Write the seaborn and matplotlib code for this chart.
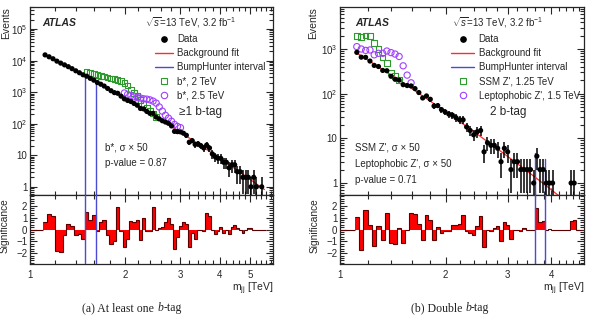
import numpy as np
import pandas as pd
import matplotlib
matplotlib.use("Agg")
import matplotlib.pyplot as plt
import seaborn as sns
from matplotlib.ticker import FixedLocator, FuncFormatter, NullFormatter, LogLocator, MultipleLocator
from matplotlib.lines import Line2D
from matplotlib.offsetbox import TextArea, HPacker, AnchoredOffsetbox

# ---------------- data ----------------
edges = [1.100, 1.133, 1.166, 1.200, 1.234, 1.269, 1.305, 1.341, 1.378, 1.416,
         1.454, 1.493, 1.533, 1.573, 1.614, 1.656, 1.698, 1.741, 1.785, 1.830,
         1.875, 1.921, 1.968, 2.016, 2.065, 2.114, 2.164, 2.215, 2.267, 2.320,
         2.374, 2.429, 2.485, 2.542, 2.600, 2.659, 2.719, 2.780, 2.842, 2.905,
         2.969, 3.034, 3.100, 3.167, 3.235, 3.305, 3.376, 3.448, 3.521, 3.596,
         3.672, 3.749, 3.827, 3.907, 3.988, 4.070, 4.154, 4.239, 4.326, 4.414,
         4.504, 4.595, 4.688, 4.782, 4.878, 4.975, 5.074, 5.175, 5.277, 5.381,
         5.487, 5.595]

left_data = [15174, 13208, 11437, 9622, 8325, 7317, 6420, 5552, 4755, 4124,
             3552, 3204, 2742, 2398, 2025, 1785, 1561, 1312, 1109, 966,
             921, 747, 612, 545, 505, 437, 384, 304, 294, 245,
             213, 212, 162, 142, 124, 113, 103, 85, 57, 56,
             55, 50, 43, 26, 29, 22, 23, 20, 17, 21,
             17, 11, 9, 8, 8, 6, 6, 4, 5, 5,
             3, 3, 2, 2, 2, 1, 2, 1, 0, 1, 0]
left_bkg = [15100, 13060, 11320, 9800, 8500, 7360, 6380, 5530, 4790, 4150,
            3600, 3120, 2700, 2340, 2030, 1760, 1530, 1330, 1150, 998,
            865, 750, 650, 564, 490, 425, 369, 320, 277, 247,
            214, 186, 162, 141, 122, 106.5, 93, 80.5, 70, 61,
            53, 46, 40.4, 35.1, 30.6, 26.6, 23.2, 20.2, 17.5, 15.2,
            13.3, 11.5, 10.1, 8.8, 7.6, 6.6, 5.7, 5.0, 4.4, 3.8,
            3.3, 2.85, 2.5, 2.17, 1.89, 1.64, 1.42, 1.24, 1.08, 0.93, 0.82]
left_sig = [0.6, 1.3, 1.1, -1.8, -1.9, -0.5, 0.5, 0.3, -0.5, -0.4,
            -0.8, 1.5, 0.8, 1.2, -0.1, 0.6, 0.8, -0.5, -1.2, -1.0,
            1.9, -0.1, -1.5, -0.8, 0.7, 0.6, 0.8, -0.9, 1.0, -0.1,
            -0.1, 1.9, 0.0, 0.1, 0.2, 0.6, 1.0, 0.5, -1.6, -0.6,
            0.3, 0.6, 0.5, -1.5, -0.3, -0.8, 0.0, 0.0, -0.1, 1.4,
            1.1, 0.0, -0.4, -0.1, 0.2, -0.3, 0.0, -0.4, 0.2, 0.4,
            0.1, 0.0, -0.3, 0.0, 0.1, 0.1, 0.0, 0.0, 0.0, 0.0, 0.0]
left_sig1_first_bin = 12          # b*, 2 TeV (data + signal x50)
left_sig1 = [4270, 4000, 3750, 3500, 3300, 3100, 2900, 2750, 2600, 2450, 2300,
             1950, 1600, 1200, 950, 750, 560, 420, 320, 260, 210, 165]
left_sig2_first_bin = 23          # b*, 2.5 TeV
left_sig2 = [940, 850, 780, 710, 670, 650, 615, 600, 570, 520, 450, 340,
             250, 185, 150, 120, 95, 82, 75]
left_interval = [1.493, 1.614]
left_interval_top = [3300, 1950]

right_data = [840, 656, 650, 537, 429, 405, 331, 326, 245, 210,
              201, 159, 152, 149, 130, 106, 80, 89, 75, 53,
              54, 44, 39, 35, 33, 29, 26, 26, 18, 15,
              12, 14, 15, 5, 8, 7, 7, 6, 3, 6,
              5, 2, 3, 3, 2, 2, 2, 2, 1, 4,
              2, 2, 1, 1, 1, 0, 0, 0, 0, 0,
              1, 1, 0, 0]
right_bkg = [810, 701, 609, 528, 459, 399, 347, 302, 263, 229,
             200, 174, 152, 133, 116, 101, 88.7, 77.7, 67.9, 59.5,
             52.2, 45.8, 40.1, 35.2, 30.9, 27.1, 23.8, 20.9, 18.4, 16.2,
             14.2, 12.5, 11.0, 9.6, 8.5, 7.45, 6.56, 5.77, 5.08, 4.47,
             3.94, 3.47, 3.06, 2.69, 2.37, 2.09, 1.84, 1.62, 1.43, 1.26,
             1.11, 0.98, 0.865, 0.76, 0.67, 0.59, 0.52, 0.46, 0.41, 0.36,
             0.32, 0.28, 0.25, 0.22]
right_sig = [1.05, -1.7, 1.65, 0.4, -1.4, 0.3, -0.85, 1.4, -1.1, -1.25,
             0.1, -1.15, 0.0, 1.4, 1.3, 0.5, -0.9, 1.25, 0.8, -0.9,
             0.2, -0.3, -0.1, -0.1, 0.4, 0.4, 0.5, 1.2, -0.1, -0.3,
             -0.5, 0.3, 1.1, -1.5, 0.0, -0.1, 0.1, 0.3, -1.0, 0.6,
             0.4, -0.8, 0.0, 0.0, -0.1, 0.1, 0.0, 0.0, 0.0, 1.8,
             0.65, 0.7, 0.0, 0.05, 0.0, 0.0, 0.0, 0.0, 0.0, 0.0,
             0.7, 0.8, 0.0, 0.0]
right_sig1_first_bin = 1          # SSM Z', 1.25 TeV
right_sig1 = [1950, 1850, 2000, 1950, 1350, 1000, 640, 480, 300, 250, 200]
right_sig2_first_bin = 1          # Leptophobic Z', 1.5 TeV
right_sig2 = [1130, 1000, 930, 950, 740, 800, 800, 900, 830, 770, 680, 420, 260, 175]
right_interval = [3.596, 3.827]
right_interval_top = [4.8, 3.5]

panels = [
    dict(data=left_data, bkg=left_bkg, sig=left_sig,
         s1=left_sig1, s1b=left_sig1_first_bin, s2=left_sig2, s2b=left_sig2_first_bin,
         interval=left_interval, itop=left_interval_top,
         xlim=(1.0, 5.9), ylim=(0.55, 5e5), xticks=[1, 2, 3, 4, 5],
         labels=["Data", "Background fit", "BumpHunter interval", "b*, 2 TeV", "b*, 2.5 TeV"],
         tag="\u22651 b-tag", notes=["b*, \u03c3 \u00d7 50", "p-value = 0.87"],
         caption=("(a) At least one ", "b", "-tag")),
    dict(data=right_data, bkg=right_bkg, sig=right_sig,
         s1=right_sig1, s1b=right_sig1_first_bin, s2=right_sig2, s2b=right_sig2_first_bin,
         interval=right_interval, itop=right_interval_top,
         xlim=(1.0, 4.95), ylim=(0.54, 8700), xticks=[1, 2, 3, 4],
         labels=["Data", "Background fit", "BumpHunter interval", "SSM Z', 1.25 TeV",
                 "Leptophobic Z', 1.5 TeV"],
         tag="2 b-tag", notes=["SSM Z', \u03c3 \u00d7 50", "Leptophobic Z', \u03c3 \u00d7 50",
                               "p-value = 0.71"],
         caption=("(b) Double ", "b", "-tag")),
]

# ---------------- style ----------------
sns.set_theme(style="ticks")
plt.rcParams["font.family"] = ["Liberation Sans", "DejaVu Sans"]
plt.rcParams["mathtext.fontset"] = "custom"
plt.rcParams["mathtext.rm"] = "Liberation Sans"
plt.rcParams["mathtext.it"] = "Liberation Sans:italic"
plt.rcParams["axes.linewidth"] = 0.9

RED = "#ff2b2b"
BLUE = "#4a4ad6"
GREEN = "#2e9a2e"
PURPLE = "#a040ff"
FS = 7

fig = plt.figure(figsize=(5.89, 3.19), dpi=100)

top_boxes = [[30, 7, 273, 195], [340, 7, 584, 195]]
bot_boxes = [[30, 195, 273, 264], [340, 195, 584, 264]]
W, H = 589.0, 319.0


def ax_from_px(b):
    x0, y0, x1, y1 = b
    return fig.add_axes([x0 / W, 1 - y1 / H, (x1 - x0) / W, (y1 - y0) / H])


def style_ticks(ax):
    ax.tick_params(which="both", direction="in", top=True, right=True, width=0.8,
                   labelsize=FS, pad=2)
    ax.tick_params(which="major", length=5)
    ax.tick_params(which="minor", length=2.6)


def ylog_fmt(v, pos):
    if abs(v - 1) < 1e-9:
        return "1"
    if abs(v - 10) < 1e-9:
        return "10"
    e = int(round(np.log10(v)))
    return r"$10^{%d}$" % e


ev_label_x = [-0.078, -0.09]
sg_label_x = [-0.086, -0.082]
leg_x = [0.515, 0.455]
leg_hl = [1.8, 2.4]
cap_x = [132 / W, 450 / W]

for k, p in enumerate(panels):
    e = np.array(edges[: len(p["data"]) + 1])
    centers = np.sqrt(e[:-1] * e[1:])
    data = np.array(p["data"], dtype=float)
    bkg = np.array(p["bkg"], dtype=float)
    sig = np.array(p["sig"], dtype=float)

    ax = ax_from_px(top_boxes[k])
    axr = ax_from_px(bot_boxes[k])
    for a in (ax, axr):
        a.set_xscale("log")
        a.set_xlim(*p["xlim"])
        a.xaxis.set_major_locator(FixedLocator(p["xticks"]))
        minor = [v for v in np.arange(1.0, 6.01, 0.2) if min(abs(v - t) for t in p["xticks"]) > 1e-6]
        a.xaxis.set_minor_locator(FixedLocator(minor))
        a.xaxis.set_minor_formatter(NullFormatter())
        style_ticks(a)

    # ---- top panel ----
    ax.set_yscale("log")
    ax.set_ylim(*p["ylim"])
    ax.yaxis.set_major_locator(LogLocator(base=10, numticks=12))
    ax.yaxis.set_minor_locator(LogLocator(base=10, subs=np.arange(2, 10), numticks=12))
    ax.yaxis.set_major_formatter(FuncFormatter(ylog_fmt))
    ax.yaxis.set_minor_formatter(NullFormatter())
    ax.tick_params(axis="x", labelbottom=False)

    # background fit
    dfb = pd.DataFrame({"m": centers, "b": bkg})
    sns.lineplot(data=dfb, x="m", y="b", ax=ax, color=RED, lw=0.9, sort=False,
                 estimator=None, zorder=2)

    # signal overlays
    i1 = p["s1b"] - 1
    df1 = pd.DataFrame({"m": centers[i1:i1 + len(p["s1"])], "v": p["s1"]})
    sns.scatterplot(data=df1, x="m", y="v", ax=ax, marker="s", s=16,
                    facecolor="none", edgecolor=GREEN, linewidth=0.8, zorder=3)
    i2 = p["s2b"] - 1
    df2 = pd.DataFrame({"m": centers[i2:i2 + len(p["s2"])], "v": p["s2"]})
    sns.scatterplot(data=df2, x="m", y="v", ax=ax, marker="o", s=20,
                    facecolor="none", edgecolor=PURPLE, linewidth=0.8, zorder=3)

    # data
    mask = data > 0
    dm = data[mask]
    err = np.sqrt(dm)
    lo = np.minimum(err, dm * 0.999)
    ax.errorbar(centers[mask], dm, yerr=[lo, err], fmt="none", ecolor="black",
                elinewidth=1.1, capsize=0, zorder=4)
    dfd = pd.DataFrame({"m": centers[mask], "n": dm})
    sns.scatterplot(data=dfd, x="m", y="n", ax=ax, color="black", s=14,
                    edgecolor="none", zorder=5)

    # BumpHunter interval
    ymin = p["ylim"][0]
    for xv, yt in zip(p["interval"], p["itop"]):
        ax.plot([xv, xv], [ymin, yt], color=BLUE, lw=1.0, zorder=1)
        axr.axvline(xv, color=BLUE, lw=1.0, zorder=4)

    # legend
    handles = [
        Line2D([], [], marker="o", ls="none", color="black", ms=3.8),
        Line2D([], [], color=RED, lw=1.0),
        Line2D([], [], color=BLUE, lw=1.0),
        Line2D([], [], marker="s", ls="none", mfc="none", mec=GREEN, mew=0.8, ms=4.2),
        Line2D([], [], marker="o", ls="none", mfc="none", mec=PURPLE, mew=0.8, ms=4.6),
    ]
    ax.legend(handles, p["labels"], loc="upper left", bbox_to_anchor=(leg_x[k], 0.855),
              frameon=False, fontsize=FS, borderpad=0, borderaxespad=0,
              handlelength=leg_hl[k], handletextpad=0.45, labelspacing=0.42)

    ax.text(0.05 if k == 0 else 0.061, 0.915, "ATLAS", transform=ax.transAxes,
            fontsize=FS + 0.5, fontweight="bold", fontstyle="italic", va="center", ha="left")
    ax.text(0.473 if k == 0 else 0.459, 0.915, r"$\sqrt{s}$=13 TeV, 3.2 fb$^{-1}$",
            transform=ax.transAxes, fontsize=FS, va="center", ha="left")
    ax.text(0.615, 0.441, p["tag"], transform=ax.transAxes, fontsize=FS + 1.5,
            va="center", ha="left")
    if k == 0:
        ny = [0.25, 0.17]
        nx = 0.309
    else:
        ny = [0.25, 0.165, 0.082]
        nx = 0.061
    for t, yy in zip(p["notes"], ny):
        ax.text(nx, yy, t, transform=ax.transAxes, fontsize=FS, va="center", ha="left")

    ax.set_xlabel("")
    ax.set_ylabel("Events", fontsize=FS + 0.5, loc="top")
    ax.yaxis.set_label_coords(ev_label_x[k], 1.0)

    # ---- ratio panel ----
    axr.bar(e[:-1], sig, width=np.diff(e), align="edge", color="#ff0000",
            edgecolor="none", linewidth=0, zorder=2)
    axr.stairs(sig, e, baseline=None, color="#5a0000", lw=0.8, zorder=3)
    axr.hlines(0, p["xlim"][0], e[0], color="#5a0000", lw=0.8, zorder=3)
    axr.set_ylim(-2.9, 2.9)
    axr.yaxis.set_major_locator(FixedLocator([-2, -1, 0, 1, 2]))
    axr.yaxis.set_minor_locator(MultipleLocator(0.2))
    axr.yaxis.set_major_formatter(FuncFormatter(lambda v, pos: ("%d" % v).replace("-", "\u2212")))
    axr.xaxis.set_major_formatter(FuncFormatter(lambda v, pos: "%d" % round(v)))
    axr.tick_params(axis="x", pad=4)
    axr.set_ylabel("Significance", fontsize=FS + 0.3)
    axr.yaxis.set_label_coords(sg_label_x[k], 0.56)
    axr.set_xlabel(r"m$_{\rm jj}$ [TeV]", fontsize=FS + 0.5, loc="right", labelpad=1)

    # caption
    tp = dict(family="Liberation Serif", size=8.5, color="#222222")
    tpi = dict(family="Liberation Serif", size=8.5, style="italic", color="#222222")
    hp = HPacker(children=[TextArea(p["caption"][0], textprops=tp),
                           TextArea(p["caption"][1], textprops=tpi),
                           TextArea(p["caption"][2], textprops=tp)], sep=0, pad=0, align="baseline")
    box = AnchoredOffsetbox(loc="center", child=hp, frameon=False, pad=0, borderpad=0,
                            bbox_to_anchor=(cap_x[k], 1 - 308 / H),
                            bbox_transform=fig.transFigure)
    fig.add_artist(box)

fig.savefig("out.png", dpi=100)
